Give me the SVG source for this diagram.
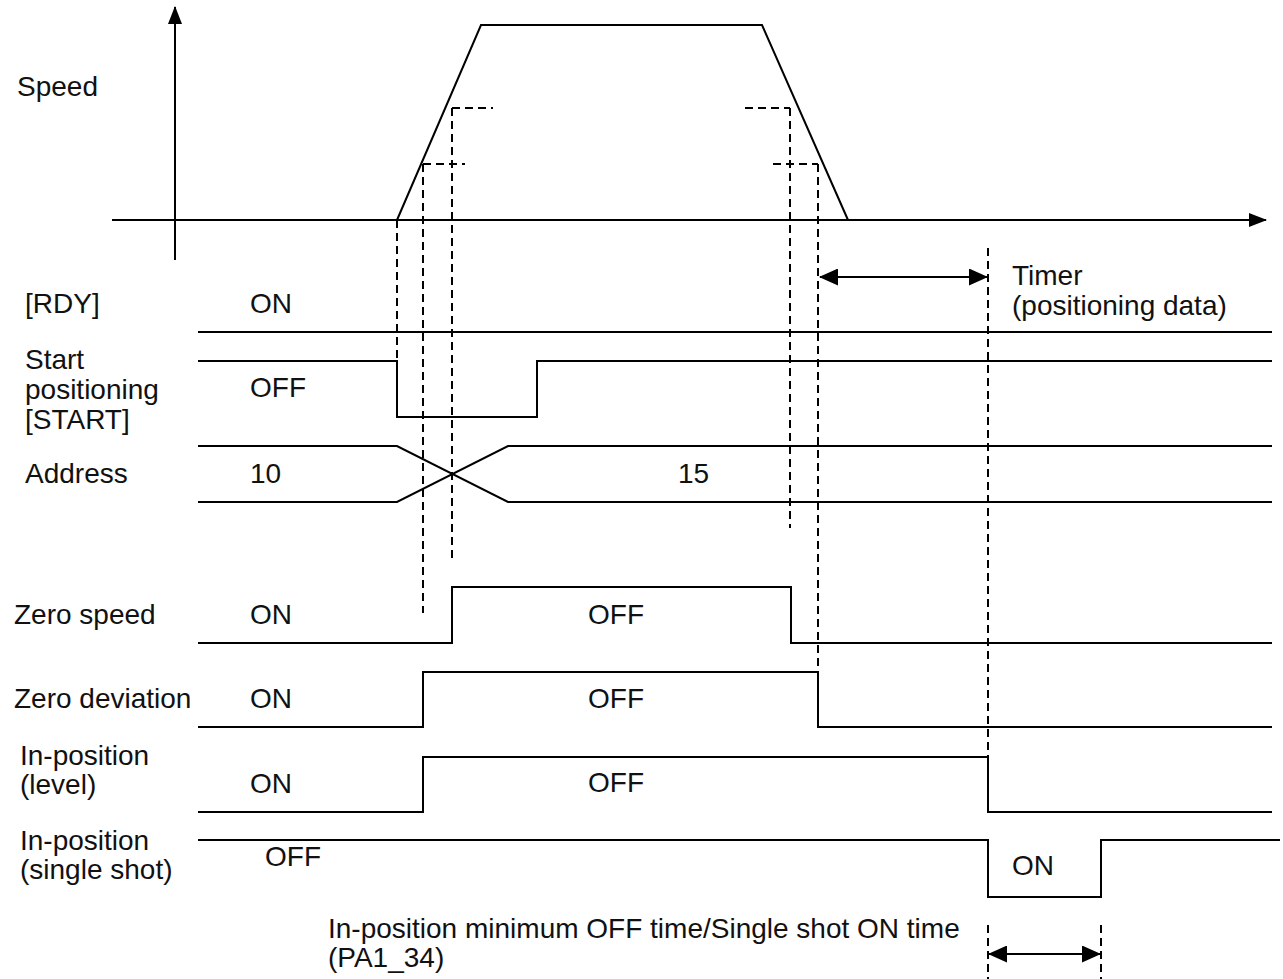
<svg xmlns="http://www.w3.org/2000/svg" width="1283" height="979" viewBox="0 0 1283 979">
<defs>
<marker id="ah" markerUnits="userSpaceOnUse" markerWidth="18" markerHeight="14" viewBox="0 0 18 14" refX="17" refY="7" orient="auto"><path d="M0,0 L18,7 L0,14 z" fill="#000"/></marker>
<marker id="dh" markerUnits="userSpaceOnUse" markerWidth="19" markerHeight="17" viewBox="0 0 19 17" refX="18" refY="8.5" orient="auto-start-reverse"><path d="M0,0 L19,8.5 L0,17 z" fill="#000"/></marker>
</defs>
<style>
text{font-family:"Liberation Sans",Arial,sans-serif;font-size:28px;fill:#111}
.s{fill:none;stroke:#000;stroke-width:2}
.d{fill:none;stroke:#000;stroke-width:2;stroke-dasharray:8 5}
</style>
<rect width="1283" height="979" fill="#fff"/>
<g id="speed">
<line class="s" x1="175" y1="260" x2="175" y2="7" marker-end="url(#ah)"/>
<line class="s" x1="112" y1="220" x2="1266" y2="220" marker-end="url(#ah)"/>
<polyline class="s" points="397,220 481,25 762,25 848,220"/>
<text x="17" y="96">Speed</text>
</g>
<g id="rdy">
<text x="25" y="313">[RDY]</text>
<text x="250" y="313">ON</text>
<line class="s" x1="198" y1="332" x2="1272" y2="332"/>
</g>
<g id="start">
<text x="25" y="369">Start</text>
<text x="25" y="399">positioning</text>
<text x="25" y="429">[START]</text>
<text x="250" y="397">OFF</text>
<polyline class="s" points="198,361 397,361 397,417 537,417 537,361 1272,361"/>
</g>
<g id="address">
<text x="25" y="483">Address</text>
<text x="250" y="483">10</text>
<text x="678" y="483">15</text>
<polyline class="s" points="198,446 397,446 508,502 1272,502"/>
<polyline class="s" points="198,502 397,502 508,446 1272,446"/>
</g>
<g id="zero-speed">
<text x="14" y="624">Zero speed</text>
<text x="250" y="624">ON</text>
<text x="588" y="624">OFF</text>
<polyline class="s" points="198,643 452,643 452,587 791,587 791,643 1272,643"/>
</g>
<g id="zero-deviation">
<text x="14" y="708">Zero deviation</text>
<text x="250" y="708">ON</text>
<text x="588" y="708">OFF</text>
<polyline class="s" points="198,727 423,727 423,672 818,672 818,727 1272,727"/>
</g>
<g id="inpos-level">
<text x="20" y="765">In-position</text>
<text x="20" y="794">(level)</text>
<text x="250" y="793">ON</text>
<text x="588" y="792">OFF</text>
<polyline class="s" points="198,812 423,812 423,757 988,757 988,812 1272,812"/>
</g>
<g id="inpos-single">
<text x="20" y="850">In-position</text>
<text x="20" y="879">(single shot)</text>
<text x="265" y="866">OFF</text>
<text x="1012" y="875">ON</text>
<polyline class="s" points="198,840 988,840 988,897 1101,897 1101,840 1280,840"/>
</g>
<g id="timer-label">
<text x="1012" y="285">Timer</text>
<text x="1012" y="315">(positioning data)</text>
</g>
<g id="min-off-label">
<text x="328" y="938">In-position minimum OFF time/Single shot ON time</text>
<text x="328" y="967">(PA1_34)</text>
</g>
<g id="connectors">
<line class="d" x1="397" y1="220" x2="397" y2="361"/>
<line class="d" x1="423" y1="164" x2="423" y2="613"/>
<line class="d" x1="423" y1="164" x2="465" y2="164"/>
<line class="d" x1="452" y1="108" x2="452" y2="560"/>
<line class="d" x1="452" y1="108" x2="493" y2="108"/>
<line class="d" x1="790" y1="108" x2="790" y2="528"/>
<line class="d" x1="745" y1="108" x2="790" y2="108"/>
<line class="d" x1="818" y1="164" x2="818" y2="672"/>
<line class="d" x1="773" y1="164" x2="818" y2="164"/>
<line class="d" x1="988" y1="248" x2="988" y2="757"/>
<line class="d" x1="988" y1="925" x2="988" y2="979"/>
<line class="d" x1="1101" y1="925" x2="1101" y2="979"/>
<line class="s" x1="820" y1="277" x2="987" y2="277" marker-start="url(#dh)" marker-end="url(#dh)"/>
<line class="s" x1="989" y1="954" x2="1100" y2="954" marker-start="url(#dh)" marker-end="url(#dh)"/>
</g>
</svg>
